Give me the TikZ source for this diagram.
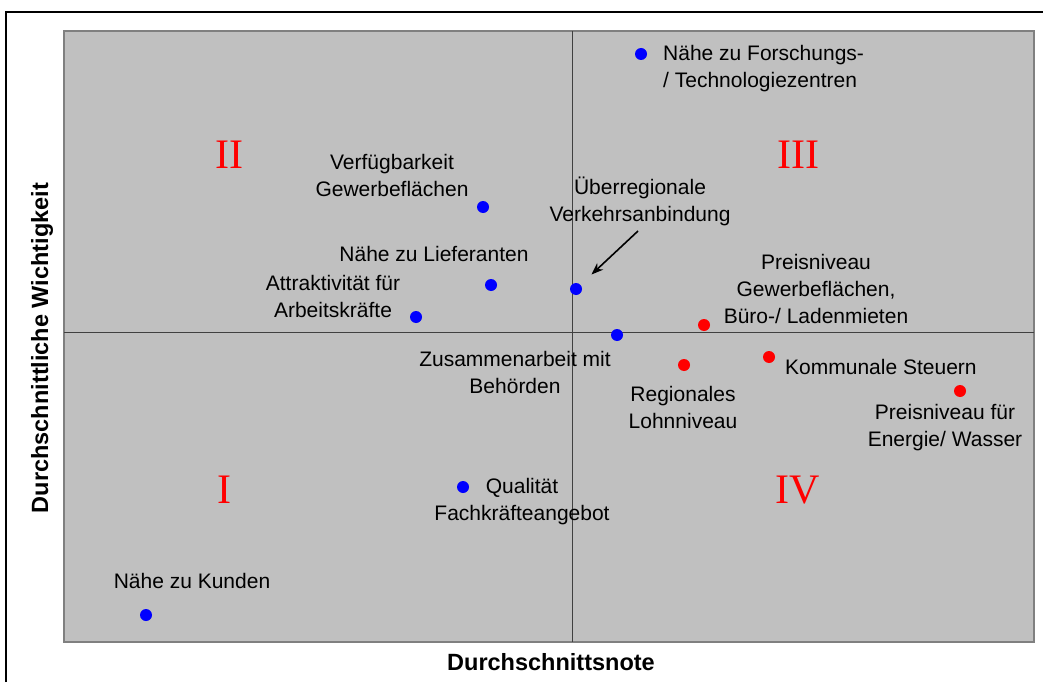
\documentclass[tikz,border=0pt]{standalone}
\usepackage{fontspec}
\setmainfont{Liberation Sans}
\newfontfamily\numeralfont{Liberation Serif}
\usepackage{tikz}
\usetikzlibrary{arrows.meta}
\usetikzlibrary{positioning}
\definecolor{plotgray}{RGB}{192,192,192}
\definecolor{framegray}{RGB}{128,128,128}
\definecolor{crossgray}{RGB}{64,64,64}

\begin{document}
\begin{tikzpicture}[x=1pt,y=-1pt,
                    every node/.style={font=\fontsize{21}{27}\selectfont,
                                       align=center,inner sep=0pt},
                    dot/.style={circle,minimum size=12pt,inner sep=0pt},
                    quadrant/.style={text=red,
                                     font=\numeralfont\fontsize{42}{42}\selectfont},
                    axis label/.style={font=\bfseries\fontsize{23.5}{27}\selectfont}]
\useasboundingbox (0,0) rectangle (1043,682);
% Outer frame and plot area:
\draw [line width=2pt] (6,682) -- (6,12) -- (1043,12);
\draw [framegray,line width=2.5pt,fill=plotgray] (64,31) rectangle (1034,642);
\draw [crossgray,line width=1pt] (572,31) -- (572,642);
\draw [crossgray,line width=1pt] (64,332) -- (1034,332);
%
\foreach \num/\x/\y in {I/224/490,II/229/155,III/798/155,IV/798/490}
{
      \node [quadrant] (quadrant \num) at (\x,\y) {\num};
}
%
\foreach \name/\x/\y/\col in {forsch/641/54/blue,verfueg/483/207/blue,
                              verkehr/576/289/blue,liefer/491/285/blue,
                              attrakt/416/317/blue,zusammen/617/335/blue,
                              quali/463/487/blue,kunden/146/615/blue,
                              preisgew/704/325/red,lohn/684/365/red,
                              steuern/769/357/red,energie/960/391/red}
{
      \node [dot,fill=\col] (dot \name) at (\x,\y) {};
}
%
\node [anchor=west,align=left] (label forsch) at (663,69)
      {Nähe zu Forschungs-\\/ Technologiezentren};
\node (label verfueg) at (392,175) {Verfügbarkeit\\Gewerbeflächen};
\node (label verkehr) at (640,201) {Überregionale\\Verkehrsanbindung};
\node (label liefer) at (434,254) {Nähe zu Lieferanten};
\node (label attrakt) at (333,296) {Attraktivität für\\Arbeitskräfte};
\node (label zusammen) at (515,372) {Zusammenarbeit mit\\Behörden};
\node (label preisgew) at (816,289)
      {Preisniveau\\Gewerbeflächen,\\Büro-/ Ladenmieten};
\node (label lohn) at (683,407) {Regionales\\Lohnniveau};
\node [anchor=west] (label steuern) at (785,367) {Kommunale Steuern};
\node (label energie) at (945,428) {Preisniveau für\\Energie/ Wasser};
\node (label quali) at (522,502) {Qualität\\Fachkräfteangebot};
\node (label kunden) at (192,581) {Nähe zu Kunden};
%
\coordinate (arrow start) at (638,231);
\draw [-{Stealth[length=12pt,width=9pt]},line width=1.6pt,shorten >=15pt]
      (arrow start) -- (dot verkehr);
%
\node [axis label] (x label) at (551,662) {Durchschnittsnote};
\node [axis label,rotate=90] (y label) at (42,348)
      {Durchschnittliche Wichtigkeit};
\end{tikzpicture}
\end{document}
